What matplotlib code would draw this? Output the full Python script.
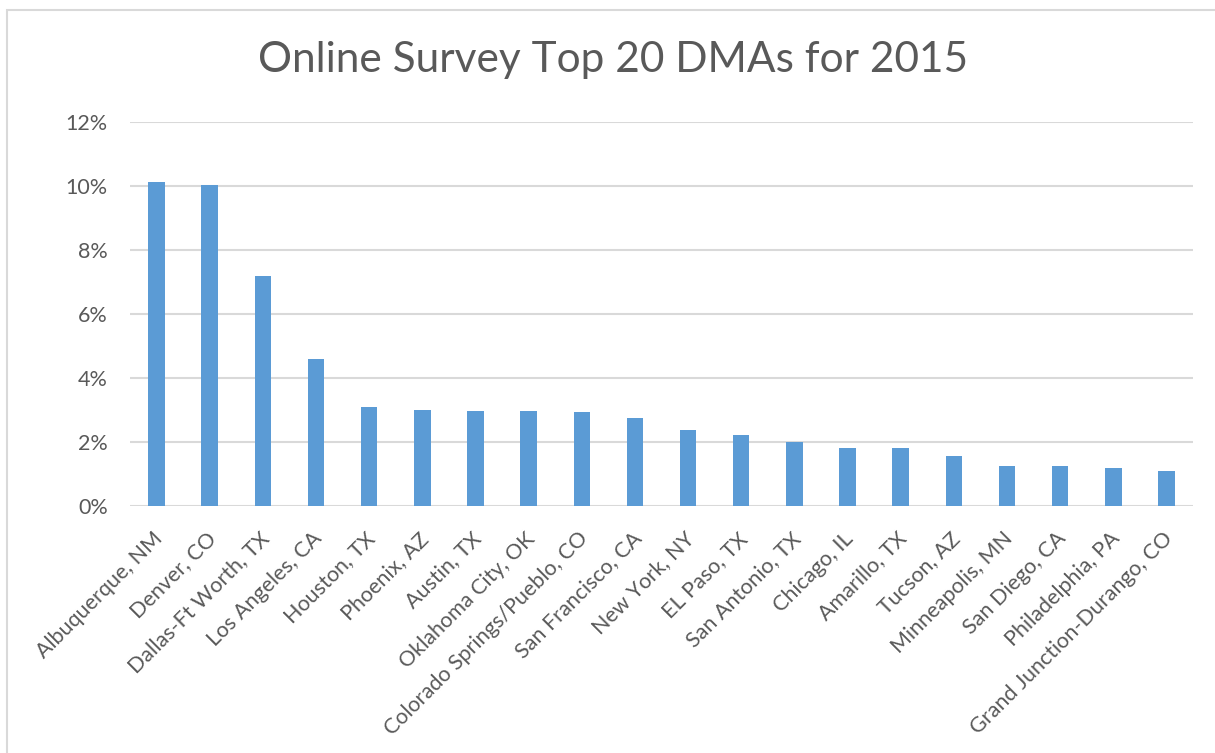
import matplotlib
matplotlib.use("Agg")
import matplotlib.pyplot as plt
import matplotlib.transforms as mtransforms
from matplotlib.patches import Rectangle
from matplotlib.ticker import PercentFormatter

# Share of online survey responses by DMA, 2015 (percent)
markets = [
    "Albuquerque, NM", "Denver, CO", "Dallas-Ft Worth, TX", "Los Angeles, CA",
    "Houston, TX", "Phoenix, AZ", "Austin, TX", "Oklahoma City, OK",
    "Colorado Springs/Pueblo, CO", "San Francisco, CA", "New York, NY",
    "EL Paso, TX", "San Antonio, TX", "Chicago, IL", "Amarillo, TX",
    "Tucson, AZ", "Minneapolis, MN", "San Diego, CA", "Philadelphia, PA",
    "Grand Junction-Durango, CO",
]
share = [10.12, 10.03, 7.17, 4.57, 3.08, 3.00, 2.96, 2.96, 2.92, 2.73,
         2.37, 2.22, 2.00, 1.81, 1.81, 1.54, 1.23, 1.23, 1.17, 1.07]
y_ticks = [0, 2, 4, 6, 8, 10, 12]

bar_color = "#5b9bd5"
text_color = "#595959"
grid_color = "#d9d9d9"

plt.rcParams["font.family"] = ["Lato", "DejaVu Sans"]

W, H, DPI = 1215, 753, 100
fig = plt.figure(figsize=(W / DPI, H / DPI), dpi=DPI)
fig.patch.set_facecolor("white")

# outer chart frame
fig.patches.append(Rectangle((7 / W, -0.05), 1.1, 1.05 - 10 / H,
                             transform=fig.transFigure, fill=False,
                             edgecolor=grid_color, linewidth=1.5))

ax = fig.add_axes([130 / W, 1 - 505.5 / H, (1193 - 130) / W, (505.5 - 122) / H])
x = range(len(markets))
ax.bar(x, share, width=0.31, color=bar_color, zorder=3)

ax.set_xlim(-0.5, len(markets) - 0.5)
ax.set_ylim(0, 12)
ax.set_yticks(y_ticks)
ax.yaxis.set_major_formatter(PercentFormatter(decimals=0))
ax.grid(axis="y", color=grid_color, linewidth=1.5, zorder=0)
for s in ax.spines.values():
    s.set_visible(False)
ax.tick_params(axis="both", length=0, labelsize=15.5, labelcolor=text_color)
ax.tick_params(axis="y", pad=16)
ax.tick_params(axis="x", pad=0)

ax.set_xticks(list(x))
ax.set_xticklabels(markets, rotation=45, ha="right", va="center",
                   rotation_mode="anchor")
shift = mtransforms.ScaledTranslation(3 / DPI, -30 / DPI, fig.dpi_scale_trans)
for lbl in ax.get_xticklabels():
    lbl.set_transform(lbl.get_transform() + shift)

fig.text(613 / W, 1 - 60 / H, "Online Survey Top 20 DMAs for 2015",
         ha="center", va="center", fontsize=30.5, color=text_color)

fig.savefig("out.png", dpi=DPI)
